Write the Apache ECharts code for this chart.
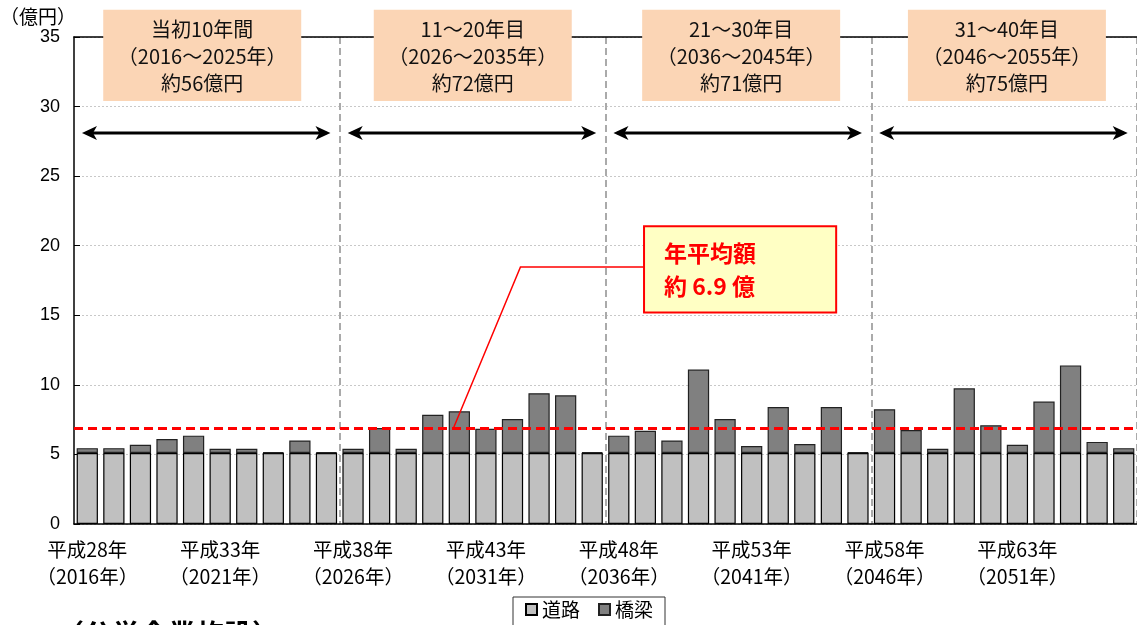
<!DOCTYPE html>
<html>
<head>
<meta charset="utf-8">
<script src="https://cdn.jsdelivr.net/npm/echarts@6/dist/echarts.min.js"></script>
<style>
  html, body { margin: 0; padding: 0; background: #fff; }
  #main { width: 1137px; height: 625px; }
</style>
</head>
<body>
<div id="main"></div>
<script>
const years = [
  '2016', '2017', '2018', '2019', '2020', '2021', '2022', '2023', '2024', '2025',
  '2026', '2027', '2028', '2029', '2030', '2031', '2032', '2033', '2034', '2035',
  '2036', '2037', '2038', '2039', '2040', '2041', '2042', '2043', '2044', '2045',
  '2046', '2047', '2048', '2049', '2050', '2051', '2052', '2053', '2054', '2055'
]
// 道路（億円）
const roadValues = [
  5.1, 5.1, 5.1, 5.1, 5.1, 5.1, 5.1, 5.1, 5.1, 5.1,
  5.1, 5.1, 5.1, 5.1, 5.1, 5.1, 5.1, 5.1, 5.1, 5.1,
  5.1, 5.1, 5.1, 5.1, 5.1, 5.1, 5.1, 5.1, 5.1, 5.1,
  5.1, 5.1, 5.1, 5.1, 5.1, 5.1, 5.1, 5.1, 5.1, 5.1
]
// 橋梁（億円）
const bridgeValues = [
  0.35, 0.35, 0.6, 1.0, 1.25, 0.3, 0.3, 0.05, 0.9, 0.05,
  0.3, 1.8, 0.3, 2.75, 3.0, 1.75, 2.45, 4.3, 4.15, 0.05,
  1.25, 1.6, 0.9, 6.0, 2.45, 0.5, 3.3, 0.65, 3.3, 0.05,
  3.15, 1.65, 0.3, 4.65, 2.0, 0.6, 3.7, 6.3, 0.8, 0.35
]
const tickLabels = [
  '平成28年\n（2016年）', '平成33年\n（2021年）', '平成38年\n（2026年）', '平成43年\n（2031年）',
  '平成48年\n（2036年）', '平成53年\n（2041年）', '平成58年\n（2046年）', '平成63年\n（2051年）'
]
const periodTexts = [
  '当初10年間\n（2016～2025年）\n約56億円',
  '11～20年目\n（2026～2035年）\n約72億円',
  '21～30年目\n（2036～2045年）\n約71億円',
  '31～40年目\n（2046～2055年）\n約75億円'
]
const averageValue = 6.9
const averageText = '年平均額\n約 6.9 億'

const FONT = "'Liberation Sans', 'Noto Sans CJK JP', sans-serif"
const CJK = "'Noto Sans CJK JP', 'Liberation Sans', sans-serif"

const chart = echarts.init(document.getElementById('main'))

const option = {
  animation: false,
  textStyle: { fontFamily: FONT },
  grid: { left: 74, right: -6, top: 37, bottom: 101 },
  legend: {
    left: 513,
    top: 597,
    icon: 'rect',
    itemWidth: 11,
    itemHeight: 11,
    itemGap: 18,
    padding: [3, 12, 10, 12],
    borderColor: '#333',
    borderWidth: 1,
    textStyle: { fontFamily: CJK, fontSize: 19, color: '#000' },
    data: ['道路', '橋梁']
  },
  xAxis: [
    {
      type: 'category',
      data: years,
      axisLine: { lineStyle: { color: '#000', width: 1.5 } },
      axisTick: { inside: true, length: 5, lineStyle: { color: '#555' } },
      splitLine: {
        show: true,
        interval: function (index) { return index > 0 && index % 10 === 0 },
        lineStyle: { color: '#aaa', type: [7, 4], width: 2 }
      },
      axisLabel: {
        interval: 4,
        margin: 12,
        fontSize: 19.5,
        lineHeight: 27,
        color: '#000',
        fontFamily: CJK,
        formatter: function (v, i) { return tickLabels[i / 5] }
      }
    },
    {
      type: 'category',
      position: 'top',
      data: years,
      axisLine: { lineStyle: { color: '#000', width: 1.5 } },
      axisTick: { show: false },
      axisLabel: { show: false }
    }
  ],
  yAxis: {
    type: 'value',
    min: 0,
    max: 35,
    interval: 5,
    axisLine: { show: true, lineStyle: { color: '#000', width: 1.5 } },
    axisTick: { show: true, inside: true, length: 6, lineStyle: { color: '#000' } },
    axisLabel: { fontSize: 18, color: '#000', margin: 14 },
    splitLine: { lineStyle: { color: '#c8c8c8', type: [2, 2] } }
  },
  series: [
    {
      name: '道路',
      type: 'bar',
      stack: 'total',
      barCategoryGap: '20%',
      data: roadValues,
      itemStyle: { color: '#C0C0C0', borderColor: '#000', borderWidth: 1.2 },
      markLine: {
        silent: true,
        symbol: 'none',
        label: { show: false },
        lineStyle: { color: '#ff0000', type: [9, 5], width: 3 },
        data: [{ yAxis: averageValue }]
      }
    },
    {
      name: '橋梁',
      type: 'bar',
      stack: 'total',
      data: bridgeValues,
      itemStyle: { color: '#808080', borderColor: '#222', borderWidth: 1.2 }
    }
  ]
}
chart.setOption(option)

// annotation positions in category / value units
const cx0 = chart.convertToPixel({ xAxisIndex: 0 }, years[0])
const cx1 = chart.convertToPixel({ xAxisIndex: 0 }, years[1])
const px = c => cx0 + c * (cx1 - cx0)
const py = v => chart.convertToPixel({ yAxisIndex: 0 }, v)

const graphics = []

graphics.push({
  type: 'text', left: 0, top: 7,
  style: { text: '（億円）', font: '19px ' + CJK, fill: '#000' }
})
graphics.push({
  type: 'text', left: 56, top: 620,
  style: { text: '（公営企業施設）', font: 'bold 28px ' + CJK, fill: '#000' }
})

const boxStarts = [0.6, 10.78, 20.88, 30.88]
periodTexts.forEach((t, g) => {
  const x1 = px(boxStarts[g]), x2 = px(boxStarts[g] + 7.45)
  const y1 = py(36.95), y2 = py(30.4)
  graphics.push({
    type: 'rect', z: 10,
    shape: { x: x1, y: y1, width: x2 - x1, height: y2 - y1 },
    style: { fill: '#FBD5B5' }
  })
  graphics.push({
    type: 'text', z: 11,
    x: (x1 + x2) / 2, y: (y1 + y2) / 2 + 1,
    style: {
      text: t, font: '20px ' + CJK, fill: '#111', lineHeight: 27,
      align: 'center', verticalAlign: 'middle'
    }
  })
  // double arrow
  const ax1 = px(g * 10 - 0.2), ax2 = px(g * 10 + 9.15), ay = py(28.1)
  const hl = 15, hw = 7
  graphics.push({
    type: 'line', z: 10,
    shape: { x1: ax1 + 4, y1: ay, x2: ax2 - 4, y2: ay },
    style: { stroke: '#000', lineWidth: 3 }
  })
  graphics.push({
    type: 'polygon', z: 10,
    shape: { points: [[ax1, ay], [ax1 + hl, ay - hw], [ax1 + hl - 4, ay], [ax1 + hl, ay + hw]] },
    style: { fill: '#000' }
  })
  graphics.push({
    type: 'polygon', z: 10,
    shape: { points: [[ax2, ay], [ax2 - hl, ay - hw], [ax2 - hl + 4, ay], [ax2 - hl, ay + hw]] },
    style: { fill: '#000' }
  })
})

// callout for the average line
const bx1 = px(20.95), bx2 = px(28.18), by1 = py(21.4), by2 = py(15.2)
const cornerY = py(18.47)
graphics.push({
  type: 'polyline', z: 12,
  shape: { points: [[px(13.78), py(averageValue)], [px(16.3), cornerY], [bx1, cornerY]] },
  style: { stroke: '#ff0000', lineWidth: 1.5, fill: null }
})
graphics.push({
  type: 'rect', z: 12,
  shape: { x: bx1, y: by1, width: bx2 - bx1, height: by2 - by1 },
  style: { fill: '#FFFFC4', stroke: '#ff0000', lineWidth: 2 }
})
graphics.push({
  type: 'text', z: 13,
  x: bx1 + 20, y: (by1 + by2) / 2,
  style: {
    text: averageText, font: 'bold 23px ' + CJK, fill: '#ff0000', lineHeight: 33,
    verticalAlign: 'middle'
  }
})

chart.setOption({ graphic: graphics })
</script>
</body>
</html>
